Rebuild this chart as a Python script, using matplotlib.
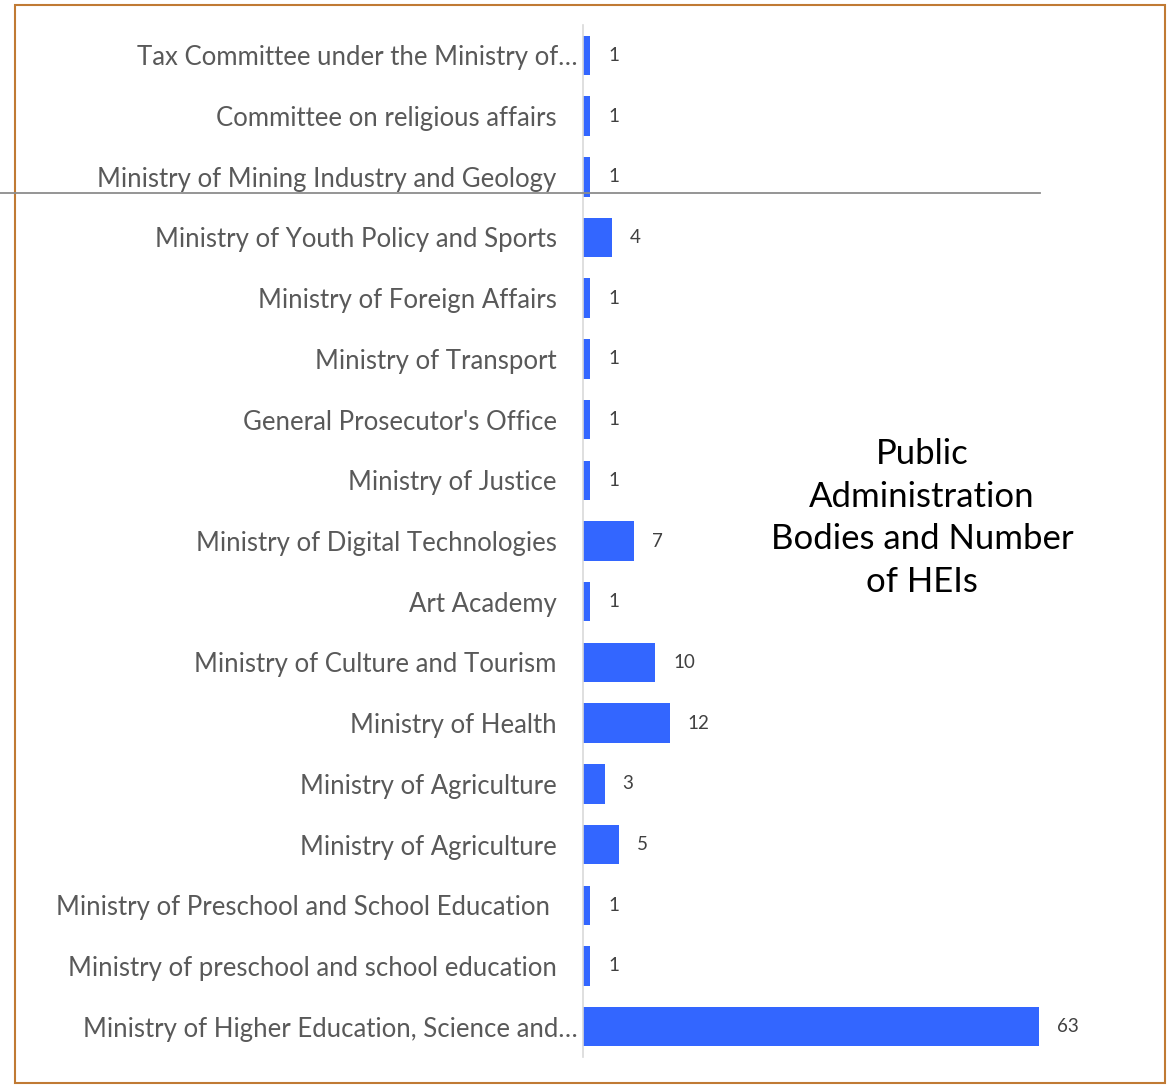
import numpy as np
import matplotlib.pyplot as plt
from matplotlib.lines import Line2D
from matplotlib.patches import Rectangle

bodies = [
    "Tax Committee under the Ministry of…",
    "Committee on religious affairs",
    "Ministry of Mining Industry and Geology",
    "Ministry of Youth Policy and Sports",
    "Ministry of Foreign Affairs",
    "Ministry of Transport",
    "General Prosecutor's Office",
    "Ministry of Justice",
    "Ministry of Digital Technologies",
    "Art Academy",
    "Ministry of Culture and Tourism",
    "Ministry of Health",
    "Ministry of Agriculture",
    "Ministry of Agriculture",
    "Ministry of Preschool and School Education ",
    "Ministry of preschool and school education",
    "Ministry of Higher Education, Science and…",
]
heis = [1, 1, 1, 4, 1, 1, 1, 1, 7, 1, 10, 12, 3, 5, 1, 1, 63]

title = "Public\nAdministration\nBodies and Number\nof HEIs"

plt.rcParams['font.family'] = ['Lato', 'DejaVu Sans']

fig = plt.figure(figsize=(11.76, 10.88), dpi=100)
ax = fig.add_axes([0.4957, 0.0285, 0.43, 0.9485])

n = len(bodies)
pos = np.arange(n)[::-1]
ax.barh(pos, heis, height=0.65, color='#3366ff')

for p, v in zip(pos, heis):
    ax.annotate(str(v), (v, p), xytext=(13, 0), textcoords='offset points',
                va='center', ha='left', fontsize=13.5, color='#404040')

ax.set_ylim(-0.5, n - 0.5)
ax.set_xlim(0, 63 * 505 / 455)
ax.set_yticks(pos)
ax.set_yticklabels(bodies, fontsize=18.5, color='#595959')
ax.tick_params(axis='y', length=0, pad=19)
for i, lab in enumerate(bodies):
    if lab.endswith('…'):
        ax.yaxis.get_major_ticks()[n - 1 - i].set_pad(4)
ax.set_xticks([])
for s in ['top', 'right', 'bottom']:
    ax.spines[s].set_visible(False)
ax.spines['left'].set_color('#d9d9d9')
ax.spines['left'].set_linewidth(1.2)

fig.text(922 / 1176, 1 - 518 / 1088, title, ha='center', va='center',
         fontsize=25, color='black', linespacing=1.4)

# frame around the chart
fig.patches.append(Rectangle((15 / 1176, 5 / 1088), 1 - 26 / 1176, 1 - 10 / 1088,
                             transform=fig.transFigure, fill=False,
                             edgecolor='#c07a34', linewidth=1.5))
# stray horizontal line
fig.lines.append(Line2D([0, 1040 / 1176], [1 - 193 / 1088, 1 - 193 / 1088],
                        transform=fig.transFigure, color='#8c8c8c', linewidth=1.3))

fig.savefig('out.png', dpi=100)
